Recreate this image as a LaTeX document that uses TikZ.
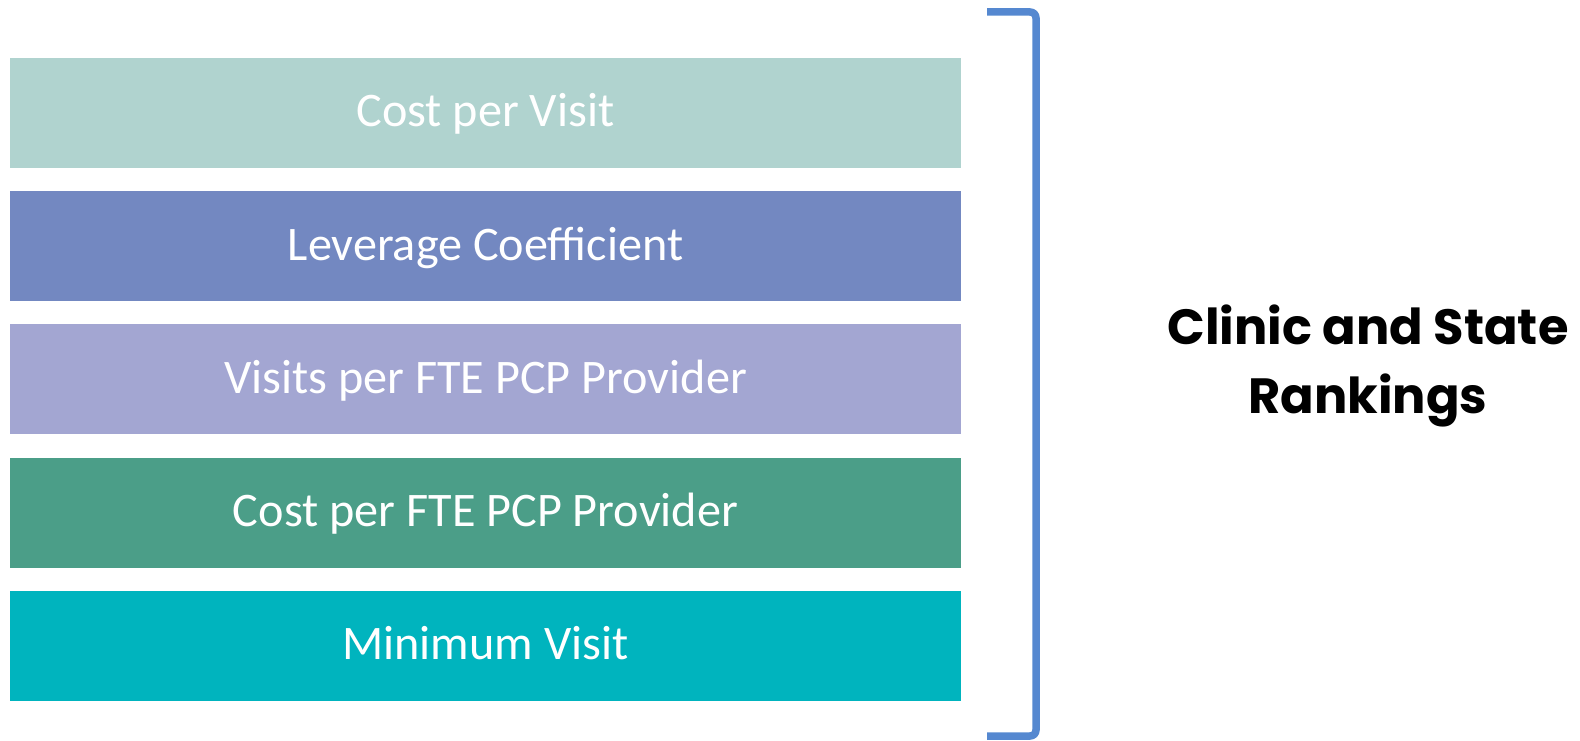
\documentclass[tikz,border=0pt]{standalone}
\usepackage{fontspec}
\setmainfont{Carlito}
\newfontfamily\titlefont{Poppins}[UprightFont=* Bold]
\definecolor{cA}{HTML}{B0D3CF}
\definecolor{cB}{HTML}{7388C1}
\definecolor{cC}{HTML}{A3A6D2}
\definecolor{cD}{HTML}{4B9E88}
\definecolor{cE}{HTML}{00B4BE}
\definecolor{brk}{HTML}{5588D0}
\tikzset{
  bar/.style={fill=#1, draw=none},
  bartext/.style={text=white, anchor=base, inner sep=0pt, font=\fontsize{48.2}{57}\selectfont},
  title/.style={anchor=base, inner sep=0pt, font=\titlefont\fontsize{49.5}{58}\selectfont}
}
\begin{document}
\begin{tikzpicture}[x=1pt,y=-1pt]
\useasboundingbox (0,0) rectangle (1580,741);
\foreach \i/\c/\t in {0/cA/Cost per Visit,1/cB/Leverage Coefficient,2/cC/Visits per FTE PCP Provider,3/cD/Cost per FTE PCP Provider,4/cE/Minimum Visit}{
  \path[bar=\c] (10,{58+133.2*\i}) rectangle (961,{168+133.2*\i});
  \node[bartext] (t\i) at (485.5,{127+133.2*\i}) {\t};
}
\coordinate (bt) at (987,12);
\coordinate (bb) at (987,736);
\draw[brk, line width=7.5pt, rounded corners=6pt] (bt) -- (1036,12) -- (1036,736) -- (bb);
\node[title] (l1) at (1368,344) {Clinic and State};
\node[title] (l2) at (1368,413) {Rankings};
\end{tikzpicture}
\end{document}
